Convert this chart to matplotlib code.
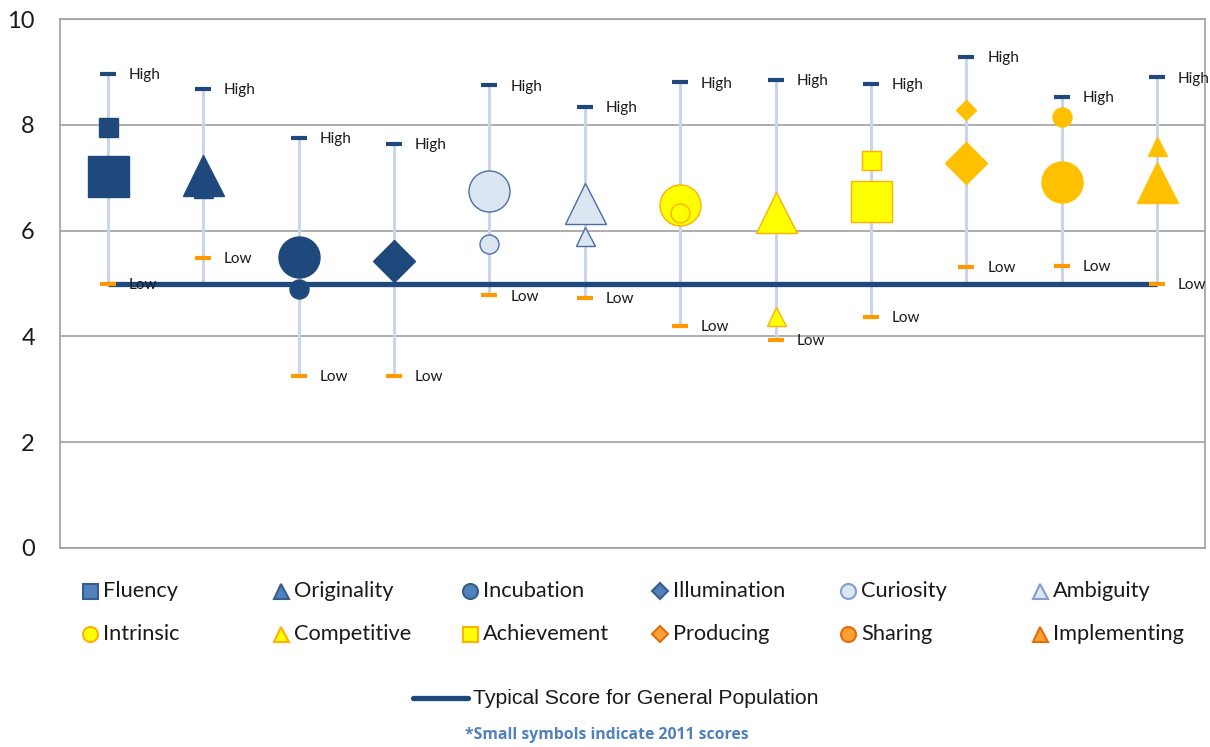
import matplotlib.pyplot as plt
from matplotlib.lines import Line2D
import numpy as np

plt.rcParams['font.family'] = ['Lato', 'DejaVu Sans']

categories = ['Fluency', 'Originality', 'Incubation', 'Illumination', 'Curiosity', 'Ambiguity',
              'Intrinsic', 'Competitive', 'Achievement', 'Producing', 'Sharing', 'Implementing']
high = [8.96, 8.68, 7.75, 7.64, 8.75, 8.34, 8.80, 8.85, 8.78, 9.29, 8.53, 8.90]
low = [5.00, 5.48, 3.25, 3.25, 4.78, 4.73, 4.20, 3.93, 4.37, 5.31, 5.33, 5.00]
scores_now = [7.03, 7.05, 5.50, 5.43, 6.75, 6.52, 6.48, 6.36, 6.56, 7.28, 6.91, 6.92]
scores_2011 = [7.96, 6.81, 4.90, 5.45, 5.75, 5.90, 6.34, 4.39, 7.33, 8.28, 8.15, 7.60]
typical = [5.0] * len(categories)

navy = '#1F497D'
markers = ['s', '^', 'o', 'D', 'o', '^', 'o', '^', 's', 'D', 'o', '^']
fills = [navy] * 4 + ['#DCE6F2'] * 2 + ['#FFFF00'] * 3 + ['#FFC000'] * 3
edges = [navy] * 4 + ['#4A6FA5'] * 2 + ['#FFB000'] * 3 + ['#FFC000'] * 3

# legend swatches use the lighter default palette
leg_fills = ['#4F81BD'] * 4 + ['#DCE6F2'] * 2 + ['#FFFF00'] * 3 + ['#FFA033'] * 3
leg_edges = ['#385D8A'] * 4 + ['#7F9FCF'] * 2 + ['#FFB000'] * 3 + ['#E46C0A'] * 3

fig = plt.figure(figsize=(12.1, 7.47), dpi=100)
ax = fig.add_axes([60 / 1210, 1 - 548 / 747, 1145 / 1210, 529 / 747])

x = np.arange(len(categories))

# high-low lines span every series at each category
for i in x:
    vals = [high[i], low[i], scores_now[i], scores_2011[i], typical[i]]
    ax.plot([i, i], [min(vals), max(vals)], color='#C9D6EA', lw=2.2, zorder=1)

ax.plot(x, typical, color=navy, lw=3.8, solid_capstyle='butt', zorder=2)

def marker_size(m, px):
    ms = px * 72 / 100
    return ms / 1.414 if m == 'D' else ms

for i in x:
    m = markers[i]
    ax.plot(i, scores_now[i], marker=m, ms=marker_size(m, 41), mfc=fills[i], mec=edges[i],
            mew=1, zorder=3)
    ax.plot(i, scores_2011[i], marker=m, ms=marker_size(m, 19), mfc=fills[i], mec=edges[i],
            mew=1, zorder=4)
    ax.plot(i, high[i], marker='_', ms=11, mew=3, color=navy, zorder=5)
    ax.plot(i, low[i], marker='_', ms=11, mew=3, color='#FF9900', zorder=5)
    ax.annotate('High', (i, high[i]), xytext=(15, -1), textcoords='offset points',
                va='center', fontsize=11, color='#1A1A1A', zorder=6)
    ax.annotate('Low', (i, low[i]), xytext=(15, -1), textcoords='offset points',
                va='center', fontsize=11, color='#1A1A1A', zorder=6)

ax.set_xlim(-0.5, len(categories) - 0.5)
ax.set_ylim(0, 10)
ax.set_yticks([0, 2, 4, 6, 8, 10])
ax.set_xticks([])
ax.tick_params(axis='y', length=0, pad=18, labelsize=17, labelcolor='#1A1A1A')
ax.grid(axis='y', color='#A0A0A0', lw=1.2)
ax.set_axisbelow(True)
for s in ax.spines.values():
    s.set_color('#A0A0A0')
    s.set_linewidth(1.2)

# category legend, two rows of six
col_x = [90, 281, 470, 660, 848, 1040]
row_y = [591, 634]
for k, name in enumerate(categories):
    px, py = col_x[k % 6], row_y[k // 6]
    m = markers[k]
    fig.add_artist(Line2D([px / 1210], [1 - py / 747], transform=fig.transFigure,
                          marker=m, ms=marker_size(m, 15), mfc=leg_fills[k],
                          mec=leg_edges[k], mew=1.5, ls='none'))
    fig.text((px + 13) / 1210, 1 - py / 747, name, fontsize=15.7, va='center',
             color='#1A1A1A')

fig.add_artist(Line2D([413 / 1210, 468 / 1210], [1 - 698 / 747] * 2, transform=fig.transFigure,
                      color=navy, lw=3.8, solid_capstyle='round'))
fig.text(473 / 1210, 1 - 698 / 747, 'Typical Score for General Population',
         fontsize=15.3, va='center', family='Liberation Sans', color='#1A1A1A')
fig.text(607 / 1210, 1 - 735 / 747, '*Small symbols indicate 2011 scores',
         fontsize=11.3, fontweight='bold', color='#4F81BD', ha='center', va='center',
         family='Open Sans')

fig.savefig('out.png', dpi=100)
